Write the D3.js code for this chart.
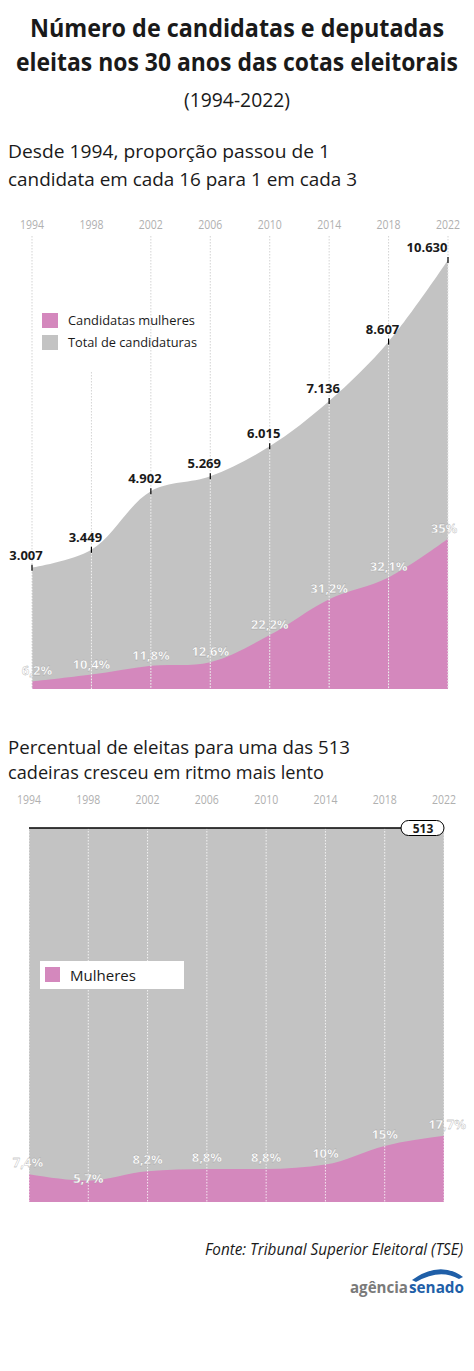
<!DOCTYPE html><html><head><meta charset="utf-8"><script src="https://cdn.jsdelivr.net/npm/d3@7"></script>
<style>body{margin:0;background:#fff}text{font-family:"Open Sans","Liberation Sans",sans-serif}</style></head><body>
<svg id="c" width="474" height="1371"></svg>
<script>
const years=["1994","1998","2002","2006","2010","2014","2018","2022"];
const totalCand=[3007,3449,4902,5269,6015,7136,8607,10630];
const totalLabels=["3.007","3.449","4.902","5.269","6.015","7.136","8.607","10.630"];
const pctCand=[6.2,10.4,11.8,12.6,22.2,31.2,32.1,35];
const pctCandLabels=["6,2%","10,4%","11,8%","12,6%","22,2%","31,2%","32,1%","35%"];
const seats=513;
const pctEleitas=[7.4,5.7,8.2,8.8,8.8,10,15,17.7];
const pctEleitasLabels=["7,4%","5,7%","8,2%","8,8%","8,8%","10%","15%","17,7%"];

const svg=d3.select("#c");
const PINK="#d488bd",GRAY="#c3c3c3";
function txt(x,y,s,size,opt={}){const t=svg.append("text").attr("x",x).attr("y",y).text(s).attr("font-size",size)
 .attr("fill",opt.fill||"#1a1a1a").attr("font-weight",opt.w||"normal").attr("text-anchor",opt.a||"start");
 if(opt.len)t.attr("textLength",opt.len).attr("lengthAdjust","spacingAndGlyphs");if(opt.style)t.attr("font-style",opt.style);return t;}
txt(237,37,"Número de candidatas e deputadas",25,{w:"bold",a:"middle",len:414});
txt(237,71,"eleitas nos 30 anos das cotas eleitorais",25,{w:"bold",a:"middle",len:442});
txt(237,107,"(1994-2022)",20,{a:"middle",len:106});
txt(8,158,"Desde 1994, proporção passou de 1",18,{len:322});
txt(8,186,"candidata em cada 16 para 1 em cada 3",18,{len:349});

const x1=d3.scalePoint().domain(years).range([32,448]);
const y1=d3.scaleLinear().domain([0,10630]).range([689,260]);
const d1=years.map((y,i)=>({y,t:totalCand[i],w:totalCand[i]*pctCand[i]/100}));
years.forEach((yr,i)=>{txt(x1(yr),229,yr,12,{fill:"#b0b0b0",a:"middle",len:24});});
const curve=d3.curveCatmullRom.alpha(0.5);
svg.append("path").datum(d1).attr("fill",GRAY).attr("d",d3.area().x(d=>x1(d.y)).y0(689).y1(d=>y1(d.t)).curve(curve));
svg.append("path").datum(d1).attr("fill",PINK).attr("d",d3.area().x(d=>x1(d.y)).y0(689).y1(d=>y1(d.w)).curve(curve));
years.forEach((yr,i)=>{const top=i==1?372:236;
 svg.append("line").attr("x1",x1(yr)).attr("x2",x1(yr)).attr("y1",top).attr("y2",689).attr("stroke","#c8c8c8").attr("stroke-width",0.8).attr("stroke-dasharray","1.5,1.5");
 svg.append("line").attr("x1",x1(yr)).attr("x2",x1(yr)).attr("y1",y1(totalCand[i])+3).attr("y2",689).attr("stroke","#fff").attr("stroke-width",0.8).attr("stroke-dasharray","1.5,1.5");
 svg.append("line").attr("x1",x1(yr)).attr("x2",x1(yr)).attr("y1",y1(totalCand[i])-3).attr("y2",y1(totalCand[i])+3).attr("stroke","#000").attr("stroke-width",1.2);
 txt(i==7?x1(yr)-21:x1(yr)-6,y1(totalCand[i])-8,totalLabels[i],13,{w:"bold",a:"middle"});
 const px=i==0?x1(yr)+5:(i==7?x1(yr)-4:x1(yr));
 txt(px,y1(totalCand[i]*pctCand[i]/100)-6,pctCandLabels[i],13,{w:"bold",a:"middle",fill:"#fff"}).attr("stroke","#999").attr("stroke-width",0.3);
});
svg.append("rect").attr("x",42).attr("y",313).attr("width",16).attr("height",15).attr("fill",PINK);
svg.append("rect").attr("x",42).attr("y",335).attr("width",16).attr("height",15).attr("fill",GRAY);
txt(68,325,"Candidatas mulheres",13,{len:127});
txt(68,347,"Total de candidaturas",13,{len:129});

txt(8,754,"Percentual de eleitas para uma das 513",18,{len:342});
txt(8,779,"cadeiras cresceu em ritmo mais lento",18,{len:316});

const x2=d3.scalePoint().domain(years).range([29,444]);
const y2=d3.scaleLinear().domain([0,seats]).range([1202,828]);
years.forEach(yr=>txt(x2(yr),804,yr,12,{fill:"#b0b0b0",a:"middle",len:24}));
const d2=years.map((y,i)=>({y,w:seats*pctEleitas[i]/100}));
svg.append("rect").attr("x",29).attr("y",y2(seats)).attr("width",415).attr("height",1202-y2(seats)).attr("fill",GRAY);
svg.append("path").datum(d2).attr("fill",PINK).attr("d",d3.area().x(d=>x2(d.y)).y0(1202).y1(d=>y2(d.w)).curve(d3.curveMonotoneX));
years.forEach((yr,i)=>{
 svg.append("line").attr("x1",x2(yr)).attr("x2",x2(yr)).attr("y1",y2(seats)).attr("y2",1202).attr("stroke","#fff").attr("stroke-width",0.8).attr("stroke-dasharray","1.5,1.5");
 const px=i==0?x2(yr)-1:(i==7?x2(yr)+3:x2(yr));
 txt(px,y2(seats*pctEleitas[i]/100)-(i==1?-2:7),pctEleitasLabels[i],13,{w:"bold",a:"middle",fill:"#fff"}).attr("stroke","#999").attr("stroke-width",0.3);
});
svg.append("line").attr("x1",29).attr("x2",402).attr("y1",y2(seats)).attr("y2",y2(seats)).attr("stroke","#000").attr("stroke-width",1.5);
svg.append("rect").attr("x",401).attr("y",y2(seats)-7.5).attr("width",43).attr("height",15).attr("rx",7.5).attr("fill","#fff").attr("stroke","#000").attr("stroke-width",1);
txt(423,y2(seats)+5,String(seats),12,{w:"bold",a:"middle"});
svg.append("rect").attr("x",40).attr("y",961).attr("width",144).attr("height",28).attr("fill","#fff");
svg.append("rect").attr("x",45).attr("y",967).attr("width",15).attr("height",15).attr("fill",PINK);
txt(70,981,"Mulheres",15,{len:66});

txt(463,1255,"Fonte: Tribunal Superior Eleitoral (TSE)",16,{a:"end",style:"italic",len:258});
txt(408,1293,"agência",16,{a:"end",fill:"#7a7a7a",w:"bold",len:58});
txt(464,1293,"senado",16,{a:"end",fill:"#1f5fa8",w:"bold",len:55});
svg.append("path").attr("d","M412,1280 Q440,1260 463,1277 L459,1279 Q440,1268 416,1282 Z").attr("fill","#1f5fa8");
</script></body></html>
